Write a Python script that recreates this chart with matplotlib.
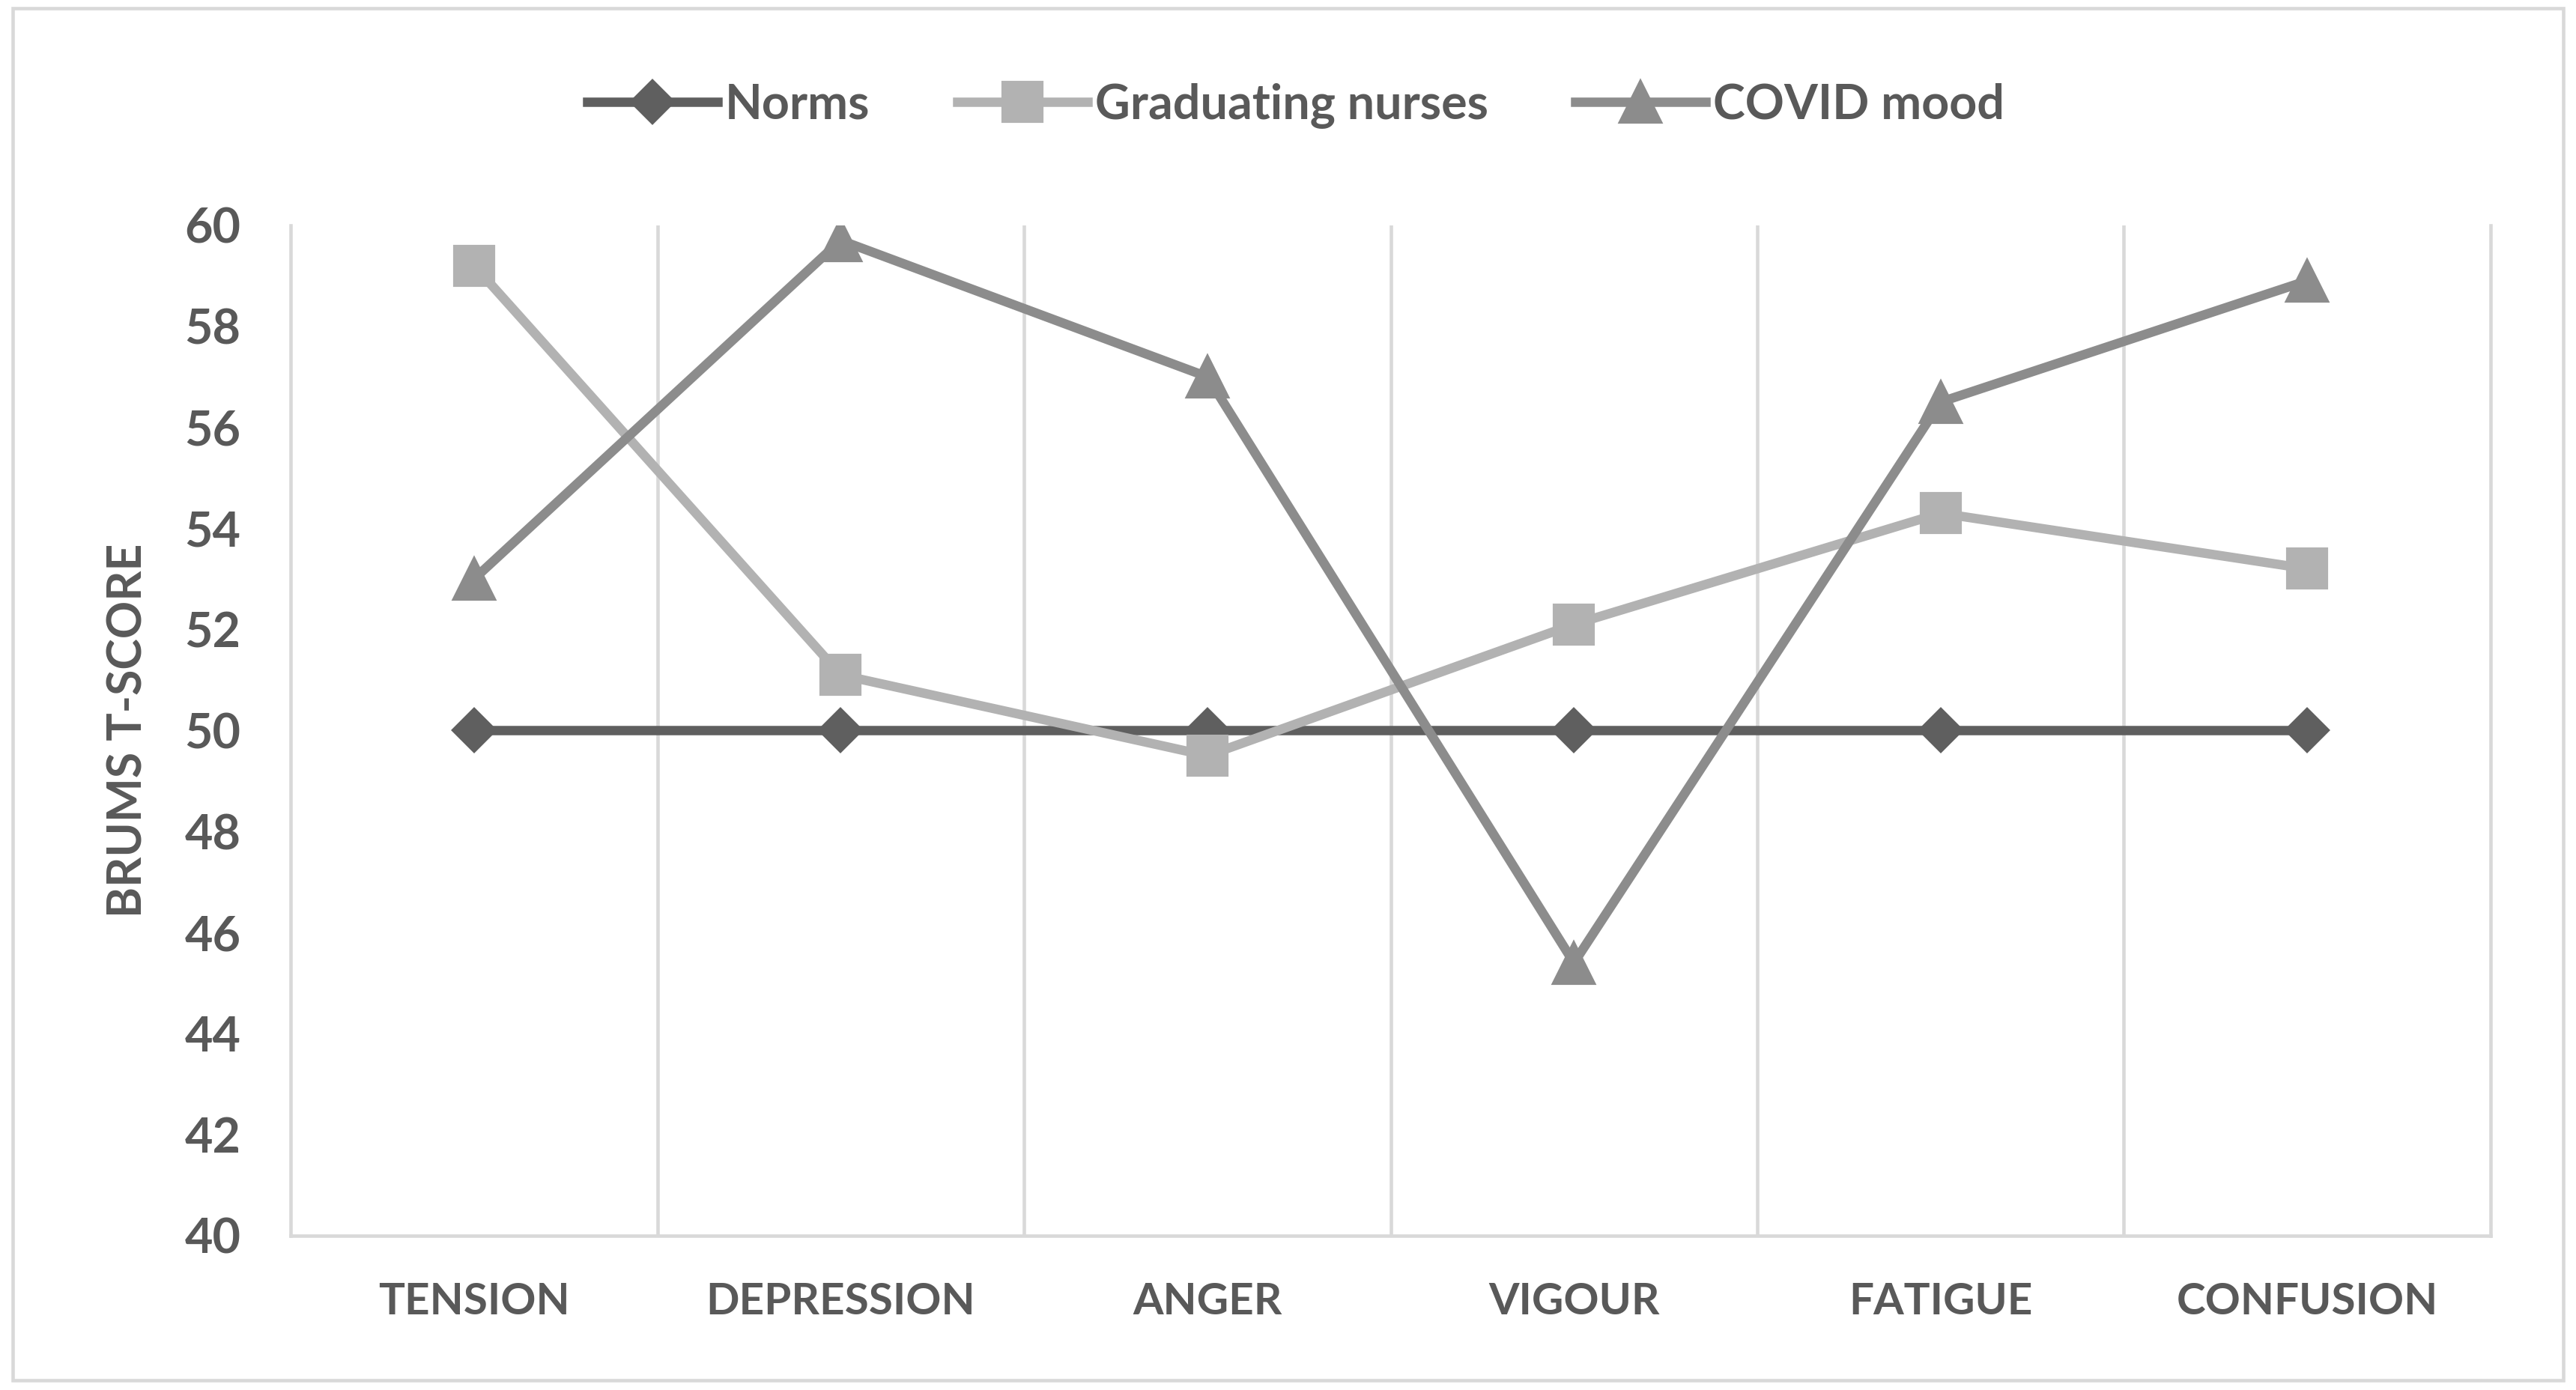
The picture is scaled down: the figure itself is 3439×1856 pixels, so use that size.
import matplotlib.pyplot as plt
from matplotlib.patches import Rectangle

categories = ["TENSION", "DEPRESSION", "ANGER", "VIGOUR", "FATIGUE", "CONFUSION"]
norms = [50, 50, 50, 50, 50, 50]
graduating = [59.2, 51.1, 49.5, 52.1, 54.3, 53.2]
covid = [53.0, 59.7, 57.0, 45.4, 56.5, 58.9]
y_ticks = list(range(40, 61, 2))

text_col = "#595959"
grid_col = "#D9D9D9"

plt.rcParams["font.family"] = ["Lato", "DejaVu Sans"]
plt.rcParams["font.weight"] = "bold"
plt.rcParams["axes.labelweight"] = "bold"

fig = plt.figure(figsize=(3439 / 300, 1856 / 300), dpi=300)
ax = fig.add_axes([0.1129, 0.111, 0.8539, 0.727])

x = list(range(len(categories)))
ax.plot(x, norms, color="#5F5F5F", lw=3.0, marker="D", ms=9.5, label="Norms", zorder=3)
ax.plot(x, graduating, color="#B2B2B2", lw=3.0, marker="s", ms=12.5, label="Graduating nurses", zorder=4)
ax.plot(x, covid, color="#8C8C8C", lw=3.0, marker="^", ms=13, label="COVID mood", zorder=5)

ax.set_xlim(-0.5, 5.5)
ax.set_ylim(40, 60)
ax.set_yticks(y_ticks)
ax.set_xticks(x)
ax.set_xticklabels(categories)
ax.set_xticks([i + 0.5 for i in x[:-1]], minor=True)
ax.grid(True, which="minor", axis="x", color=grid_col, lw=1.1)
ax.tick_params(axis="both", which="both", length=0, colors=text_col, labelsize=15.5)
ax.tick_params(axis="y", pad=16)
ax.tick_params(axis="x", pad=15)
for lab in ax.get_xticklabels():
    lab.set_fontsize(14)

for side in ["left", "right", "bottom"]:
    ax.spines[side].set_color(grid_col)
    ax.spines[side].set_linewidth(1.1)
ax.spines["top"].set_visible(False)

ax.set_ylabel("BRUMS T-SCORE", color=text_col, fontsize=15, fontweight="bold", labelpad=11)

fig.legend(loc="center", bbox_to_anchor=(0.503, 0.924), ncol=3, frameon=False,
           handlelength=2.7, handletextpad=0.15, columnspacing=1.8,
           fontsize=15.5, labelcolor=text_col)

fig.patches.append(Rectangle((0.005, 0.007), 0.99, 0.987, transform=fig.transFigure,
                             fill=False, ec=grid_col, lw=1.1))

fig.savefig("out.png", dpi=300)
